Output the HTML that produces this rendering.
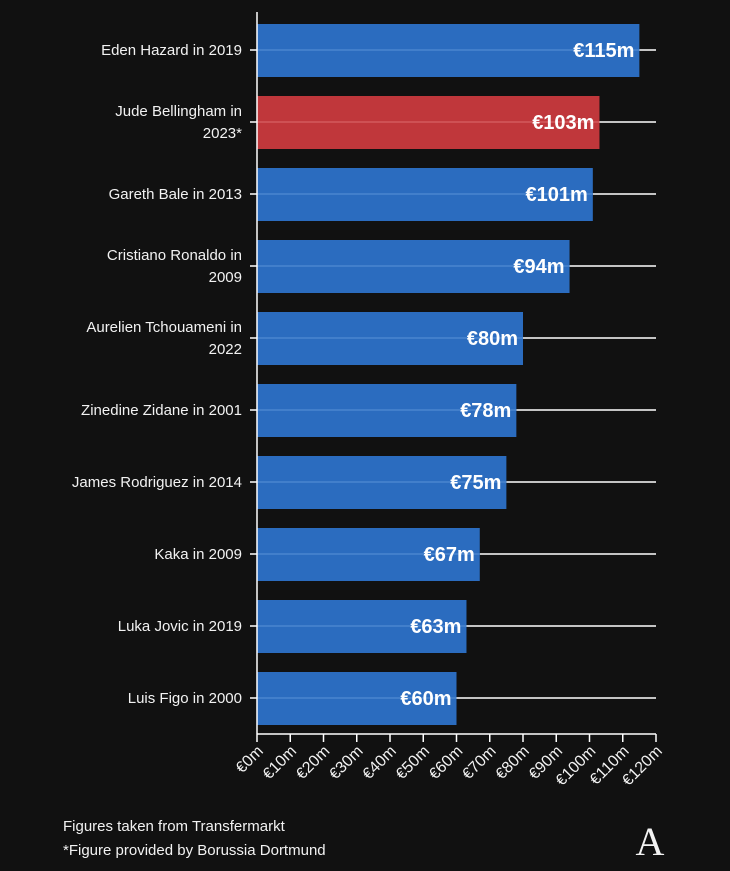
<!DOCTYPE html>
<html><head><meta charset="utf-8"><style>
body{margin:0;background:#111111;width:730px;height:866px;overflow:hidden;font-family:"Liberation Sans",sans-serif}
</style></head><body>
<svg id="chart" width="730" height="866" xmlns="http://www.w3.org/2000/svg">
<rect width="730" height="866" fill="#111111"/>
<g id="plot"></g>
<text x="63" y="831" fill="#f2f2f2" font-size="15">Figures taken from Transfermarkt</text>
<text x="63" y="855" fill="#f2f2f2" font-size="15">*Figure provided by Borussia Dortmund</text>
<text x="650" y="855" fill="#f2f2f2" font-size="40" font-family="Liberation Serif,serif" text-anchor="middle">A</text>
</svg>
<script>
const categories=[["Eden Hazard in 2019"],["Jude Bellingham in","2023*"],["Gareth Bale in 2013"],["Cristiano Ronaldo in","2009"],["Aurelien Tchouameni in","2022"],["Zinedine Zidane in 2001"],["James Rodriguez in 2014"],["Kaka in 2009"],["Luka Jovic in 2019"],["Luis Figo in 2000"]];
const values=[115,103,101,94,80,78,75,67,63,60];
const highlight=[false,true,false,false,false,false,false,false,false,false];
const ticks=[0,10,20,30,40,50,60,70,80,90,100,110,120];
const NS="http://www.w3.org/2000/svg";
const g=document.getElementById('plot');
const x0=257,x1=656,xmax=120,top0=14,step=72,bh=53;
const X=v=>x0+(x1-x0)*v/xmax;
const Y=i=>top0+step*i+step/2;
function mk(t,a){const e=document.createElementNS(NS,t);for(const k in a)e.setAttribute(k,a[k]);g.appendChild(e);return e;}
values.forEach((v,i)=>{
 const cy=Y(i);
 let l=mk('line',{x1:X(v),x2:x1,y1:cy,y2:cy,stroke:'#ffffff','stroke-width':1.5});
 
 let t=mk('line',{x1:x0-7,x2:x0,y1:cy,y2:cy,stroke:'#ffffff','stroke-width':1.5});
 
 let r=mk('rect',{x:x0,y:cy-bh/2+0.5,width:X(v)-x0,height:bh,fill:highlight[i]?'#c0373b':'#2b6cbf'});
 
 let il=mk('line',{x1:x0,x2:X(v),y1:cy,y2:cy,stroke:highlight[i]?'#d35a5c':'#4a85cf','stroke-width':1.5});
 
 let vl=mk('text',{x:X(v)-5,y:cy+7,fill:'#fff','font-size':20,'font-weight':'bold','text-anchor':'end'});
 vl.textContent='€'+v+'m';
 
 const lines=categories[i];
 lines.forEach((s,j)=>{
  let c=mk('text',{x:242,y:cy+5+(j-(lines.length-1)/2)*22,fill:'#f2f2f2','font-size':15,'text-anchor':'end'});
  c.textContent=s;
  
 });
});
let ya=mk('line',{x1:x0,x2:x0,y1:12,y2:734,stroke:'#fff','stroke-width':1.5});

let xa=mk('line',{x1:x0,x2:x1,y1:734,y2:734,stroke:'#fff','stroke-width':1.5});

ticks.forEach(v=>{
 let t=mk('line',{x1:X(v),x2:X(v),y1:734,y2:742,stroke:'#fff','stroke-width':1.5});
 
 let tl=mk('text',{x:X(v)+7,y:752,fill:'#f2f2f2','font-size':16,'text-anchor':'end',transform:`rotate(-45 ${X(v)+7} 752)`});
 tl.textContent='€'+v+'m';
 
});
</script>
</body></html>
